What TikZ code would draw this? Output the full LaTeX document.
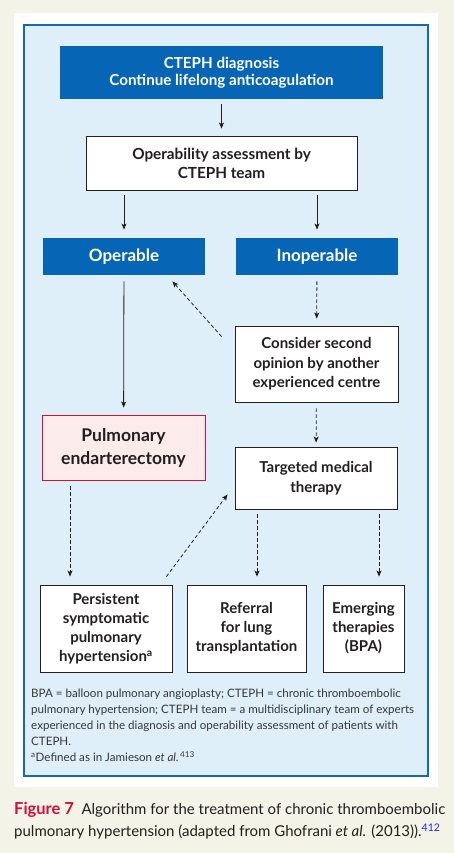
\documentclass[tikz,border=0pt]{standalone}
\usepackage{fontspec}
\setmainfont{Lato}
\usetikzlibrary{arrows.meta,positioning}
\definecolor{cpaper}{RGB}{243,243,232}
\definecolor{cpanel}{RGB}{222,239,249}
\definecolor{cframe}{RGB}{22,104,182}
\definecolor{cdark}{RGB}{6,101,180}
\definecolor{cink}{RGB}{35,31,32}
\definecolor{cpink}{RGB}{252,235,235}
\definecolor{cred}{RGB}{210,16,60}
\definecolor{clink}{RGB}{40,40,230}
\tikzset{
  flow/.style={
    draw=cink, line width=0.9pt, align=center, inner sep=0pt,
    text=cink, font=\bfseries\fontsize{15}{19.5}\selectfont
  },
  dark/.style={flow, draw=none, fill=cdark, text=white},
  plain/.style={flow, fill=white},
  pea/.style={flow, fill=cpink, draw=cred},
  arr/.style={-{Stealth[length=6pt,width=5pt,inset=1.5pt]}, draw=cink, line width=0.8pt,
    shorten <=5pt, shorten >=7pt},
  darr/.style={arr, dash pattern=on 3.5pt off 2.5pt},
  anno/.style={text=cink!90, align=left, inner sep=0pt,
    font=\fontsize{11.6}{16}\selectfont}
}
\begin{document}
\begin{tikzpicture}[x=1pt,y=-1pt]
  % page, panel and frame
  \fill[cpaper] (0,0) rectangle (454,853);
  \useasboundingbox (0,0) rectangle (454,853);
  \fill[white] (14,13) rectangle (437.5,787);
  \draw[cframe, fill=cpanel, line width=2pt] (23.5,25) rectangle (428,776);

  % Boxes
  \node[dark, minimum width=323pt, minimum height=53pt, font=\bfseries\fontsize{15.2}{17}\selectfont] (diag) at (221.5,72.5)
    {CTEPH diagnosis\\Continue lifelong anticoagulation};
  \node[plain, minimum width=271pt, minimum height=54pt, font=\bfseries\fontsize{15.3}{19}\selectfont] (assess) at (221.5,163)
    {Operability assessment by\\CTEPH team};
  \node[dark, minimum width=162pt, minimum height=37pt, font=\bfseries\fontsize{17}{20}\selectfont] (oper) at (124,256.5) {Operable};
  \node[dark, minimum width=162pt, minimum height=37pt, font=\bfseries\fontsize{17}{20}\selectfont] (inoper) at (317,256.5) {Inoperable};
  \node[plain, minimum width=163pt, minimum height=76pt] (second) at (316.5,364)
    {Consider second\\opinion by another\\experienced centre};
  \node[pea, minimum width=163pt, minimum height=65pt, font=\bfseries\fontsize{17.5}{23}\selectfont] (pea) at (123.5,447.5)
    {Pulmonary\\endarterectomy};
  \node[plain, minimum width=162pt, minimum height=62pt, font=\bfseries\fontsize{15}{20}\selectfont] (tmt) at (316,478)
    {Targeted medical\\therapy};
  \node[plain, minimum width=132pt, minimum height=87pt, font=\bfseries\fontsize{15}{19}\selectfont] (persist) at (106,628.5)
    {Persistent\\symptomatic\\pulmonary\\hypertension\textsuperscript{a}};
  \node[plain, minimum width=119pt, minimum height=87pt, font=\bfseries\fontsize{15}{19}\selectfont] (refer) at (246.5,628.5)
    {Referral\\for lung\\transplantation};
  \node[plain, minimum width=81pt, minimum height=87pt, font=\bfseries\fontsize{15}{19}\selectfont] (emerg) at (363.5,628.5)
    {Emerging\\therapies\\(BPA)};

  % Connectors
  \draw[arr] (diag) -- (assess);
  \draw[arr, shorten >=8pt] (assess.south -| oper.north) -- (oper.north);
  \draw[arr, shorten >=8pt] (assess.south -| inoper.north) -- (inoper.north);
  \draw[arr, shorten <=6pt] (oper) -- (pea);
  \draw[darr, shorten <=6pt] (inoper) -- (second);
  \draw[darr, shorten <=6pt, shorten >=4pt] (second) -- (tmt);
  \draw[darr, shorten <=0pt, shorten >=0pt] ([xshift=-13pt,yshift=-11pt]second.north west)
    -- ([xshift=-33pt,yshift=-6pt]oper.south east);
  \draw[darr, shorten <=6pt, shorten >=8pt] ([xshift=-53.5pt]pea.south) -- ([xshift=-36pt]persist.north);
  \draw[darr, shorten <=0pt, shorten >=0pt] ([xshift=-6pt,yshift=8pt]persist.north east)
    -- ([xshift=-7pt,yshift=15pt]tmt.south west);
  \draw[darr, shorten >=8pt] ([xshift=-59pt]tmt.south) coordinate (t1) -- (t1 |- refer.north);
  \draw[darr, shorten >=8pt] ([xshift=63pt]tmt.south) coordinate (t2) -- (t2 |- emerg.north);

  % Notes and caption
  \node[anno, anchor=north west] (notes) at (31,689)
    {BPA = balloon pulmonary angioplasty; CTEPH = chronic thromboembolic\\
     pulmonary hypertension; CTEPH team = a multidisciplinary team of experts\\
     experienced in the diagnosis and operability assessment of patients with\\
     CTEPH.\\
     \textsuperscript{a}Defined as in Jamieson \textit{et al.}\textsuperscript{\,413}};
  \node[anchor=north west, align=left, inner sep=0pt, text=cink, font=\fontsize{15}{22}\selectfont] (caption) at (14,802)
    {{\color{cred}\bfseries\fontsize{16.5}{22}\selectfont Figure 7}\enspace Algorithm for the treatment of chronic thromboembolic\\
     pulmonary hypertension (adapted from Ghofrani \textit{et al.} (2013)).\textsuperscript{\color{clink}412}};
\end{tikzpicture}
\end{document}
